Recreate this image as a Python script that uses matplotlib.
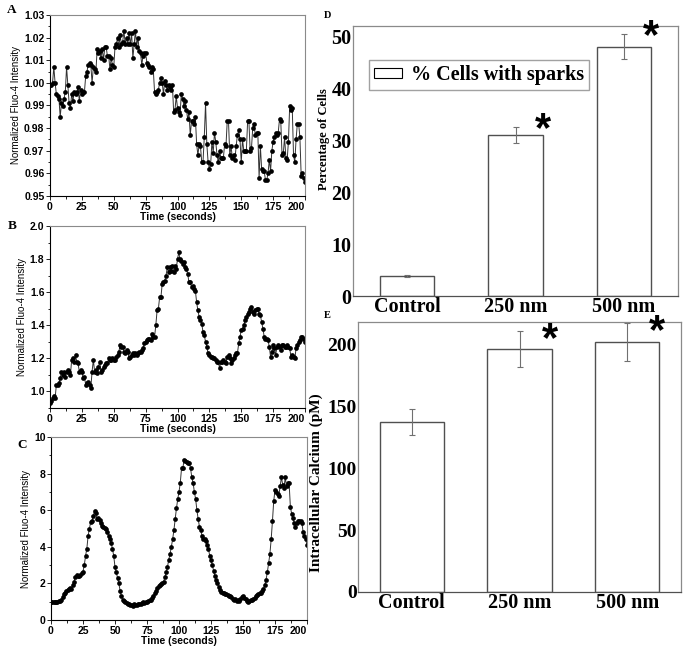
import numpy as np
import matplotlib
matplotlib.use("Agg")
import matplotlib.pyplot as plt
from matplotlib.ticker import MultipleLocator, FormatStrFormatter

# ---------------- data ----------------
series_a = [
    0.999, 0.999, 1.000, 1.007, 1.000, 0.995, 0.994, 0.993, 0.985, 0.991,
    0.990, 0.993, 0.996, 1.007, 0.999, 0.991, 0.989, 0.995, 0.992, 0.996,
    0.995, 0.996, 0.998, 0.992, 0.997, 0.995, 0.996, 0.996, 1.003, 1.005,
    1.008, 1.009, 1.008, 1.000, 1.007, 1.006, 1.005, 1.015, 1.013, 1.014,
    1.011, 1.015, 1.010, 1.016, 1.016, 1.012, 1.012, 1.006, 1.011, 1.008,
    1.007, 1.016, 1.017, 1.020, 1.016, 1.021, 1.017, 1.018, 1.023, 1.017,
    1.020, 1.017, 1.022, 1.017, 1.022, 1.011, 1.017, 1.023, 1.016, 1.020,
    1.014, 1.013, 1.008, 1.012, 1.013, 1.013, 1.009, 1.008, 1.007, 1.005,
    1.007, 1.006, 0.996, 0.995, 0.996, 0.997, 1.000, 1.002, 1.000, 0.995,
    1.001, 0.999, 0.997, 0.999, 0.998, 0.997, 0.999, 0.987, 0.988, 0.994,
    0.989, 0.987, 0.986, 0.995, 0.993, 0.990, 0.992, 0.988, 0.984, 0.987,
    0.977, 0.983, 0.983, 0.982, 0.985, 0.973, 0.968, 0.973, 0.972, 0.965,
    0.965, 0.976, 0.991, 0.973, 0.965, 0.962, 0.964, 0.974, 0.969, 0.978,
    0.974, 0.968, 0.965, 0.970, 0.967, 0.967, 0.967, 0.973, 0.972, 0.983,
    0.983, 0.968, 0.972, 0.967, 0.968, 0.966, 0.972, 0.977, 0.979, 0.975,
    0.965, 0.975, 0.970, 0.970, 0.970, 0.983, 0.983, 0.970, 0.971, 0.980,
    0.982, 0.977, 0.978, 0.978, 0.958, 0.972, 0.962, 0.961, 0.961, 0.957,
    0.957, 0.960, 0.966, 0.961, 0.970, 0.974, 0.976, 0.978, 0.977, 0.978,
    0.984, 0.983, 0.968, 0.969, 0.976, 0.967, 0.966, 0.974, 0.990, 0.988,
    0.989, 0.968, 0.965, 0.975, 0.982, 0.982, 0.976, 0.959, 0.960, 0.958, 0.956,
]

series_b = [
    0.93, 0.94, 0.96, 0.97, 0.96, 1.04, 1.04, 1.05, 1.08, 1.12,
    1.10, 1.12, 1.09, 1.12, 1.13, 1.12, 1.10, 1.19, 1.20, 1.18,
    1.22, 1.18, 1.17, 1.12, 1.13, 1.12, 1.08, 1.09, 1.04, 1.05,
    1.06, 1.04, 1.02, 1.12, 1.19, 1.12, 1.13, 1.11, 1.15, 1.18,
    1.12, 1.13, 1.15, 1.16, 1.17, 1.17, 1.20, 1.19, 1.19, 1.20,
    1.19, 1.19, 1.21, 1.22, 1.24, 1.28, 1.27, 1.27, 1.24, 1.23,
    1.25, 1.24, 1.20, 1.21, 1.22, 1.23, 1.22, 1.23, 1.22, 1.23,
    1.24, 1.24, 1.25, 1.26, 1.29, 1.30, 1.31, 1.32, 1.32, 1.31,
    1.35, 1.33, 1.33, 1.40, 1.49, 1.50, 1.57, 1.57, 1.65, 1.66,
    1.67, 1.70, 1.75, 1.72, 1.75, 1.73, 1.76, 1.72, 1.76, 1.74,
    1.80, 1.84, 1.80, 1.79, 1.77, 1.78, 1.75, 1.74, 1.71, 1.66,
    1.66, 1.63, 1.64, 1.62, 1.61, 1.54, 1.49, 1.45, 1.43, 1.41,
    1.36, 1.34, 1.30, 1.27, 1.23, 1.22, 1.21, 1.21, 1.20, 1.20,
    1.19, 1.18, 1.18, 1.14, 1.18, 1.18, 1.19, 1.18, 1.17, 1.21,
    1.22, 1.20, 1.17, 1.19, 1.20, 1.22, 1.23, 1.23, 1.29, 1.33,
    1.37, 1.38, 1.40, 1.43, 1.45, 1.47, 1.48, 1.50, 1.51, 1.48,
    1.47, 1.49, 1.50, 1.50, 1.47, 1.46, 1.42, 1.38, 1.33, 1.32,
    1.32, 1.31, 1.27, 1.21, 1.24, 1.28, 1.26, 1.22, 1.27, 1.28,
    1.27, 1.25, 1.28, 1.28, 1.27, 1.27, 1.28, 1.27, 1.26, 1.21,
    1.22, 1.21, 1.20, 1.26, 1.28, 1.30, 1.31, 1.33, 1.33, 1.32, 1.30,
]

series_c = [
    1.0, 1.0, 1.0, 1.0, 1.0, 1.0, 1.02, 1.05, 1.1, 1.25,
    1.4, 1.5, 1.6, 1.65, 1.7, 1.75, 1.7, 1.9, 2.1, 2.35,
    2.45, 2.4, 2.4, 2.45, 2.55, 2.65, 3.0, 3.5, 3.9, 4.6,
    5.0, 5.35, 5.4, 5.7, 5.95, 5.85, 5.5, 5.55, 5.45, 5.3,
    5.15, 5.1, 5.05, 5.0, 4.8, 4.6, 4.4, 4.2, 3.9, 3.5,
    2.9, 2.6, 2.3, 2.0, 1.6, 1.3, 1.1, 1.05, 1.0, 0.95,
    0.9, 0.85, 0.8, 0.82, 0.78, 0.85, 0.8, 0.82, 0.85, 0.85,
    0.9, 0.95, 1.0, 0.95, 1.0, 1.0, 1.05, 1.1, 1.1, 1.2,
    1.3, 1.45, 1.6, 1.75, 1.85, 1.9, 1.95, 2.0, 2.1, 2.35,
    2.6, 2.9, 3.3, 3.6, 4.0, 4.4, 4.9, 5.5, 6.1, 6.6,
    7.0, 7.5, 8.3, 8.3, 8.75, 8.7, 8.65, 8.6, 8.6, 8.3,
    7.8, 7.5, 7.0, 6.6, 6.0, 5.5, 5.1, 4.9, 4.6, 4.45,
    4.4, 4.3, 4.1, 3.9, 3.5, 3.3, 3.0, 2.7, 2.4, 2.2,
    2.0, 1.8, 1.65, 1.55, 1.5, 1.45, 1.4, 1.4, 1.35, 1.3,
    1.3, 1.25, 1.15, 1.1, 1.15, 1.05, 1.1, 1.05, 1.15, 1.25,
    1.3, 1.2, 1.15, 1.05, 1.0, 1.05, 1.1, 1.1, 1.15, 1.2,
    1.3, 1.35, 1.4, 1.45, 1.5, 1.6, 1.7, 1.9, 2.2, 2.6,
    3.1, 3.6, 4.4, 5.4, 6.5, 7.1, 7.0, 6.9, 6.8, 7.3,
    7.8, 7.4, 7.2, 7.8, 7.3, 7.5, 7.5, 6.2, 5.8, 5.6,
    5.3, 5.1, 5.3, 5.4, 5.4, 5.4, 5.3, 4.8, 4.6, 4.4, 4.1,
]

time_step = 1.0  # seconds between samples

groups = ["Control", "250 nm", "500 nm"]
sparks_pct = [3.8, 31.0, 48.0]
sparks_err = [0.15, 1.6, 2.4]
sparks_sig = [False, True, True]
calcium_pM = [137.0, 196.5, 202.0]
calcium_err = [10.5, 14.5, 15.5]
calcium_sig = [False, True, True]

# ---------------- figure ----------------
W, H = 685, 650
fig = plt.figure(figsize=(W / 100, H / 100), dpi=100)


def rect(l, t, r, b):
    return [l / W, 1 - b / H, (r - l) / W, (b - t) / H]


SANS = "Liberation Sans"
SERIF = "Liberation Serif"


def trace_panel(pos, y, ylim, ymaj, ymin, fmt, letter, letter_xy):
    ax = fig.add_axes(rect(*pos))
    t = np.arange(len(y)) * time_step
    ax.plot(t, y, "-", color="#333333", lw=0.7, marker="o", ms=3.4,
            mfc="black", mec="black", mew=0)
    ax.set_xlim(0, 200)
    ax.set_ylim(*ylim)
    ax.xaxis.set_major_locator(MultipleLocator(25))
    ax.xaxis.set_minor_locator(MultipleLocator(12.5))
    ax.yaxis.set_major_locator(MultipleLocator(ymaj))
    ax.yaxis.set_minor_locator(MultipleLocator(ymin))
    ax.yaxis.set_major_formatter(FormatStrFormatter(fmt))
    ax.tick_params(which="both", direction="out", width=0.6, colors="black",
                   labelsize=7.5, pad=1)
    ax.tick_params(which="major", length=3)
    ax.tick_params(which="minor", length=1.8)
    fig.canvas.draw()
    xlabs = ax.get_xticklabels()
    for lab in xlabs + ax.get_yticklabels():
        lab.set_fontfamily(SANS)
        lab.set_fontweight("bold")
    # last x tick label sits flush with the right end of the axis
    vis = [lab for lab in xlabs if 0 <= lab.get_position()[0] <= 200]
    if vis:
        vis[-1].set_horizontalalignment("right")
    for s in ("left", "bottom"):
        ax.spines[s].set_color("black")
        ax.spines[s].set_linewidth(0.8)
    for s in ("top", "right"):
        ax.spines[s].set_color("#8a8a8a")
        ax.spines[s].set_linewidth(0.8)
    ax.set_ylabel("Normalized Fluo-4 Intensity", family=SANS, fontsize=7,
                  labelpad=2)
    ax.set_xlabel("Time (seconds)", family=SANS, fontsize=7.5,
                  fontweight="bold", labelpad=0)
    fig.text(letter_xy[0] / W, 1 - letter_xy[1] / H, letter, family=SERIF,
             fontweight="bold", fontsize=9.5, ha="left", va="center")
    return ax


trace_panel((50, 15, 305, 196), series_a, (0.95, 1.03), 0.01, 0.005, "%.2f",
            "A", (7, 10))
trace_panel((50, 226, 305, 408), series_b, (0.9, 2.0), 0.2, 0.1, "%.1f",
            "B", (8, 226))
trace_panel((51, 437, 307, 620), series_c, (0, 10), 2, 1, "%d",
            "C", (17, 445))


def bar_panel(pos, vals, errs, sig, ylim, ystep, width, ylabel, ylab_xy,
              ylab_size, ytick_size, letter, letter_xy, star_dx, star_dy,
              legend=False):
    ax = fig.add_axes(rect(*pos))
    x = np.arange(len(groups))
    ax.bar(x, vals, width=width, color="white", edgecolor="#505050",
           linewidth=1.0, label="% Cells with sparks", zorder=2)
    ax.errorbar(x, vals, yerr=errs, fmt="none", ecolor="#707070",
                elinewidth=0.8, capsize=2.5, capthick=0.8, zorder=3)
    for xi, v, e, s in zip(x, vals, errs, sig):
        if s:
            ax.text(xi + star_dx, v + e + star_dy, "*", family=SANS,
                    fontweight="bold", fontsize=30, ha="center",
                    va="center_baseline", color="black", zorder=4)
    ax.set_xlim(-0.5, len(groups) - 0.5)
    ax.set_ylim(*ylim)
    ax.set_xticks(x)
    ax.set_xticklabels(groups)
    ax.yaxis.set_major_locator(MultipleLocator(ystep))
    ax.tick_params(length=0, pad=1)
    ax.tick_params(axis="x", labelsize=14.5)
    ax.tick_params(axis="y", labelsize=ytick_size)
    for lab in ax.get_xticklabels() + ax.get_yticklabels():
        lab.set_fontfamily(SERIF)
        lab.set_fontweight("bold")
    for s in ax.spines.values():
        s.set_color("#8a8a8a")
        s.set_linewidth(0.9)
    ax.spines["bottom"].set_color("#505050")
    ax.set_ylabel(ylabel, family=SERIF, fontweight="bold", fontsize=ylab_size)
    ax.yaxis.set_label_coords(*ylab_xy)
    fig.text(letter_xy[0] / W, 1 - letter_xy[1] / H, letter, family=SERIF,
             fontweight="bold", fontsize=7.5, ha="left", va="center")
    if legend:
        leg = ax.legend(loc="upper left", bbox_to_anchor=(0.05, 0.875),
                        prop={"family": SERIF, "weight": "bold", "size": 14.5},
                        frameon=True, fancybox=False, borderpad=0.25,
                        handlelength=1.4, handleheight=0.4, handletextpad=0.4,
                        borderaxespad=0)
        leg.get_frame().set_edgecolor("#8a8a8a")
        leg.get_frame().set_linewidth(1.0)
        for h in leg.legend_handles:
            h.set_edgecolor("black")
            h.set_linewidth(0.8)
    return ax


bar_panel((353, 26, 678, 296), sparks_pct, sparks_err, sparks_sig, (0, 52), 10,
          0.5, "Percentage of Cells", (-0.07, 0.58), 9, 14.5, "D", (324, 15),
          0.25, 0.3, legend=True)
bar_panel((358, 322, 681, 592), calcium_pM, calcium_err, calcium_sig, (0, 218),
          50, 0.6, "Intracellular Calcium (pM)", (-0.108, 0.404), 11, 14,
          "E", (324, 315), 0.28, -4.0)

fig.savefig("out.png", dpi=100)
